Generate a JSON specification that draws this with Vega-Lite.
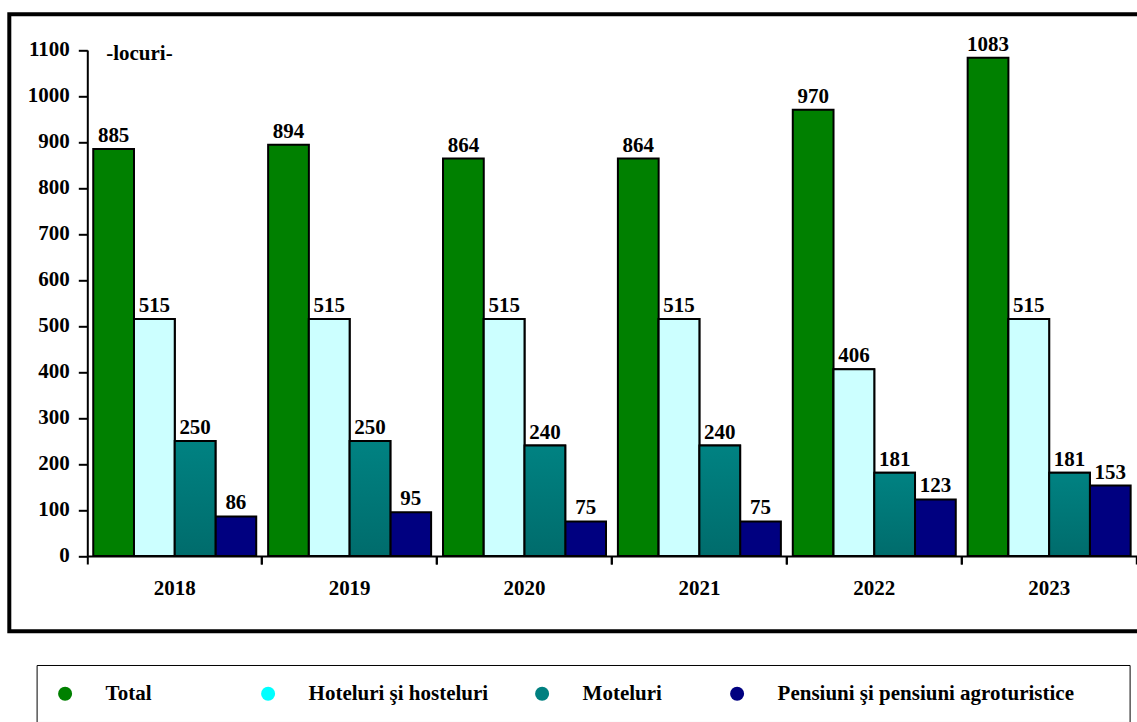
{
  "$schema": "https://vega.github.io/schema/vega-lite/v6.json",
  "width": 1132,
  "height": 617,
  "autosize": "none",
  "padding": {"left": 9.3, "top": 14.3, "right": 0, "bottom": 91},
  "background": "white",
  "config": {
    "font": "Liberation Serif",
    "view": {"stroke": "black", "strokeWidth": 4},
    "axis": {"labelColor": "black", "tickColor": "black", "domainColor": "black", "grid": false}
  },
  "data": {
    "values": [
      {"year": "2018", "type": "Total", "value": 885},
      {"year": "2018", "type": "Hoteluri şi hosteluri", "value": 515},
      {"year": "2018", "type": "Moteluri", "value": 250},
      {"year": "2018", "type": "Pensiuni şi pensiuni agroturistice", "value": 86},
      {"year": "2019", "type": "Total", "value": 894},
      {"year": "2019", "type": "Hoteluri şi hosteluri", "value": 515},
      {"year": "2019", "type": "Moteluri", "value": 250},
      {"year": "2019", "type": "Pensiuni şi pensiuni agroturistice", "value": 95},
      {"year": "2020", "type": "Total", "value": 864},
      {"year": "2020", "type": "Hoteluri şi hosteluri", "value": 515},
      {"year": "2020", "type": "Moteluri", "value": 240},
      {"year": "2020", "type": "Pensiuni şi pensiuni agroturistice", "value": 75},
      {"year": "2021", "type": "Total", "value": 864},
      {"year": "2021", "type": "Hoteluri şi hosteluri", "value": 515},
      {"year": "2021", "type": "Moteluri", "value": 240},
      {"year": "2021", "type": "Pensiuni şi pensiuni agroturistice", "value": 75},
      {"year": "2022", "type": "Total", "value": 970},
      {"year": "2022", "type": "Hoteluri şi hosteluri", "value": 406},
      {"year": "2022", "type": "Moteluri", "value": 181},
      {"year": "2022", "type": "Pensiuni şi pensiuni agroturistice", "value": 123},
      {"year": "2023", "type": "Total", "value": 1083},
      {"year": "2023", "type": "Hoteluri şi hosteluri", "value": 515},
      {"year": "2023", "type": "Moteluri", "value": 181},
      {"year": "2023", "type": "Pensiuni şi pensiuni agroturistice", "value": 153}
    ]
  },
  "encoding": {
    "y": {
      "field": "value",
      "type": "quantitative",
      "scale": {"domain": [0, 1100], "range": [541.7, 35.7], "nice": false, "zero": true},
      "axis": {
        "values": [0, 100, 200, 300, 400, 500, 600, 700, 800, 900, 1000, 1100],
        "format": "d",
        "offset": -78,
        "labelFont": "Liberation Serif",
        "labelFontSize": 21,
        "labelFontWeight": "bold",
        "labelPadding": 9,
        "tickSize": 9,
        "tickWidth": 2,
        "domainWidth": 2,
        "title": "-locuri-",
        "titleAngle": 0,
        "titleX": 18.4,
        "titleY": 45.7,
        "titleAlign": "left",
        "titleBaseline": "alphabetic",
        "titleFont": "Liberation Serif",
        "titleFontSize": 21,
        "titleFontWeight": "bold",
        "titleColor": "black"
      }
    }
  },
  "layer": [
    {
      "mark": {"type": "bar", "stroke": "black", "strokeWidth": 2},
      "encoding": {
        "x": {
          "field": "year",
          "type": "nominal",
          "scale": {"type": "band", "range": [78, 1127.3], "paddingInner": 0, "paddingOuter": 0},
          "axis": {
            "orient": "bottom",
            "title": null,
            "labels": false,
            "ticks": true,
            "bandPosition": 0,
            "tickSize": 8,
            "tickWidth": 2,
            "domain": true,
            "domainWidth": 2,
            "offset": -75.3
          }
        },
        "xOffset": {
          "field": "type",
          "type": "nominal",
          "scale": {
            "domain": ["Total", "Hoteluri şi hosteluri", "Moteluri", "Pensiuni şi pensiuni agroturistice"],
            "paddingInner": 0,
            "paddingOuter": 0.146
          }
        },
        "color": {
          "field": "type",
          "type": "nominal",
          "scale": {
            "domain": ["Total", "Hoteluri şi hosteluri", "Moteluri", "Pensiuni şi pensiuni agroturistice"],
            "range": ["#008000", "#00FFFF", "#008080", "#000080"]
          },
          "legend": {
            "orient": "none",
            "legendX": 27.3,
            "legendY": 650.7,
            "direction": "horizontal",
            "columns": 4,
            "title": null,
            "symbolType": "circle",
            "symbolSize": 196,
            "symbolStrokeWidth": 0,
            "labelFont": "Liberation Serif",
            "labelFontSize": 21,
            "labelFontWeight": "bold",
            "labelColor": "black",
            "labelOffset": 30,
            "labelLimit": 700,
            "columnPadding": 43,
            "padding": 18,
            "strokeColor": "black",
            "labelExpr": "datum.label == 'Total' ? 'Total            \u200b' : datum.label == 'Moteluri' ? 'Moteluri    \u200b' : datum.label == 'Pensiuni şi pensiuni agroturistice' ? datum.label + '       \u200b' : datum.label"
          }
        }
      }
    },
    {
      "transform": [{"filter": "datum.type === 'Hoteluri şi hosteluri'"}],
      "mark": {"type": "bar", "stroke": "black", "strokeWidth": 2, "fill": "#CCFFFF"},
      "encoding": {
        "x": {"field": "year", "type": "nominal", "axis": null},
        "xOffset": {"field": "type", "type": "nominal"}
      }
    },
    {
      "transform": [{"filter": "datum.type === 'Moteluri'"}],
      "mark": {
        "type": "bar",
        "stroke": "black",
        "strokeWidth": 2,
        "fill": {
          "gradient": "linear",
          "x1": 0, "y1": 0, "x2": 0, "y2": 1,
          "stops": [
            {"offset": 0, "color": "#008282"},
            {"offset": 1, "color": "#006C6C"}
          ]
        }
      },
      "encoding": {
        "x": {
          "field": "year",
          "type": "nominal",
          "axis": {
            "orient": "bottom",
            "title": null,
            "labels": false,
            "ticks": true,
            "bandPosition": 1,
            "tickSize": 8,
            "tickWidth": 2,
            "domain": false,
            "offset": -75.3
          }
        },
        "xOffset": {"field": "type", "type": "nominal"}
      }
    },
    {
      "mark": {
        "type": "text",
        "baseline": "alphabetic",
        "dy": -7,
        "font": "Liberation Serif",
        "fontSize": 21,
        "fontWeight": "bold",
        "color": "black"
      },
      "encoding": {
        "x": {
          "field": "year",
          "type": "nominal",
          "axis": {
            "orient": "bottom",
            "title": null,
            "labels": true,
            "ticks": false,
            "tickSize": 0,
            "domain": false,
            "labelFont": "Liberation Serif",
            "labelFontSize": 21,
            "labelFontWeight": "bold",
            "labelBaseline": "alphabetic",
            "labelPadding": 38.5,
            "labelAngle": 0,
            "offset": -75.3
          }
        },
        "xOffset": {"field": "type", "type": "nominal"},
        "text": {"field": "value", "type": "quantitative"}
      }
    }
  ],
  "resolve": {"axis": {"x": "independent"}}
}
